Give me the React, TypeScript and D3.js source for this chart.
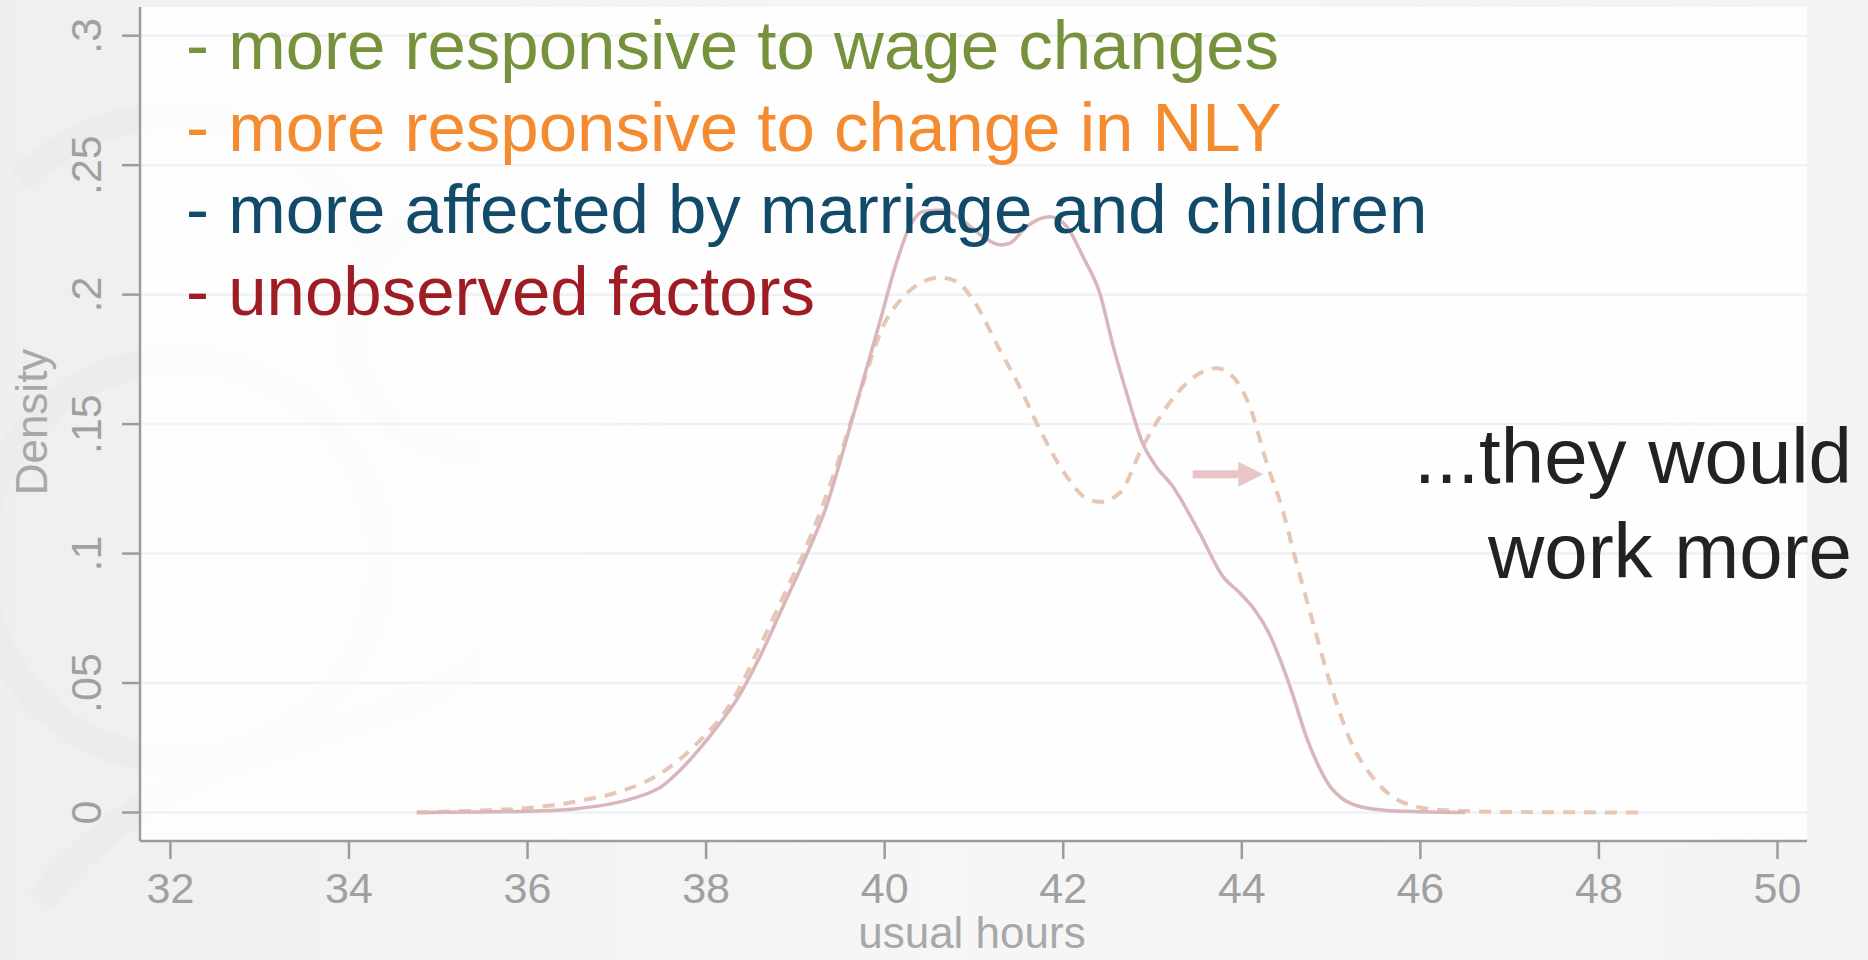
import React from "react";
import * as d3 from "d3";

// ---- data ----
const xTicks = [32, 34, 36, 38, 40, 42, 44, 46, 48, 50];
const yTicks = [0, 0.05, 0.1, 0.15, 0.2, 0.25, 0.3];
const yTickLabels = ["0", ".05", ".1", ".15", ".2", ".25", ".3"];

const solidX = [34.76, 35.5, 36.0, 36.5, 37.0, 37.3, 37.5, 37.7, 37.9, 38.1, 38.35, 38.6, 38.86, 39.1, 39.35, 39.57, 39.76, 39.95, 40.13, 40.28, 40.43, 40.66, 40.9, 41.1, 41.3, 41.4, 41.59, 41.85, 42.04, 42.22, 42.41, 42.56, 42.71, 42.89, 43.04, 43.23, 43.4, 43.53, 43.79, 43.98, 44.15, 44.3, 44.43, 44.57, 44.72, 44.88, 45.0, 45.12, 45.3, 45.6, 46.0, 46.5];
const solidY = [0, 0.0002, 0.0005, 0.0013, 0.0038, 0.0068, 0.01, 0.016, 0.0235, 0.032, 0.044, 0.06, 0.0795, 0.0975, 0.1185, 0.1439, 0.167, 0.19, 0.2121, 0.2263, 0.2321, 0.2327, 0.228, 0.2224, 0.2192, 0.2198, 0.2263, 0.2301, 0.2263, 0.2147, 0.2005, 0.18, 0.162, 0.1426, 0.1336, 0.1258, 0.116, 0.1078, 0.0911, 0.0847, 0.078, 0.0695, 0.059, 0.0455, 0.0295, 0.0165, 0.0095, 0.0055, 0.0025, 0.0009, 0.0003, 0];

const dashX = [34.76, 35.5, 36.0, 36.63, 37.09, 37.49, 37.9, 38.3, 38.6, 38.9, 39.09, 39.31, 39.55, 39.76, 39.98, 40.21, 40.43, 40.62, 40.81, 40.99, 41.29, 41.51, 41.74, 42.04, 42.25, 42.41, 42.63, 42.89, 43.16, 43.42, 43.72, 43.9, 44.09, 44.28, 44.46, 44.6, 44.78, 44.99, 45.22, 45.49, 45.82, 46.22, 47.0, 48.49];
const dashY = [0, 0.0008, 0.0017, 0.0048, 0.0087, 0.0151, 0.0267, 0.0435, 0.064, 0.086, 0.1, 0.119, 0.143, 0.166, 0.1876, 0.1992, 0.205, 0.2066, 0.205, 0.198, 0.1786, 0.1645, 0.1477, 0.1297, 0.1215, 0.12, 0.1233, 0.1413, 0.1567, 0.167, 0.1716, 0.1683, 0.1567, 0.1349, 0.1165, 0.098, 0.0755, 0.0499, 0.0275, 0.0126, 0.0037, 0.001, 0.0002, 0];

const arrowFrom = [43.45, 0.1306];
const arrowTo = [44.24, 0.1306];

const bulletTexts = [
  "- more responsive to wage changes",
  "- more responsive to change in NLY",
  "- more affected by marriage and children",
  "- unobserved factors",
];
const bulletColors = ["#76923c", "#f58b30", "#124a6a", "#a01c24"];
const noteLines = ["...they would", "work more"];

export default function App() {
  const W = 1868;
  const H = 960;
  const left = 140;
  const right = 1807;
  const top = 7;
  const bottom = 841;
  const x = d3.scaleLinear().domain([32, 50]).range([170.4, 1777.5]);
  const y = d3.scaleLinear().domain([0, 0.3]).range([812.5, 35.7]);
  const line = d3
    .line<[number, number]>()
    .x((d) => x(d[0]))
    .y((d) => y(d[1]))
    .curve(d3.curveMonotoneX);
  const solid = solidX.map((v, i) => [v, solidY[i]] as [number, number]);
  const dashed = dashX.map((v, i) => [v, dashY[i]] as [number, number]);
  const font = "'Liberation Sans', Arial, Helvetica, sans-serif";
  const axisCol = "#9c9c9c";

  const ax0 = x(arrowFrom[0]);
  const ax1 = x(arrowTo[0]);
  const ay = y(arrowFrom[1]);
  const headLen = 25;

  return (
    <svg
      width={W}
      height={H}
      style={{ position: "absolute", left: 0, top: 0, display: "block" }}
      fontFamily={font}
    >
      <defs>
        <linearGradient id="bg" x1="0" x2="1" y1="0" y2="0">
          <stop offset="0" stopColor="#efefef" />
          <stop offset="0.5" stopColor="#f6f6f6" />
          <stop offset="1" stopColor="#f3f3f3" />
        </linearGradient>
      </defs>
      <rect x={0} y={0} width={W} height={H} fill="url(#bg)" />
      {/* faint decorative swirls */}
      <g fill="none" stroke="#eaeaea" strokeWidth={28} opacity={0.55}>
        <circle cx={470} cy={330} r={120} />
        <circle cx={180} cy={560} r={200} />
        <path d="M20,180 C150,60 320,120 380,260" />
        <path d="M40,900 C200,700 420,760 520,620" />
      </g>
      <rect x={left} y={top} width={right - left} height={bottom - top} fill="#ffffff" opacity={0.84} />

      {/* gridlines */}
      {yTicks.map((t) => (
        <line key={"g" + t} x1={left} x2={right} y1={y(t)} y2={y(t)} stroke="#eef2f5" strokeWidth={2.5} />
      ))}

      {/* axes */}
      <line x1={left} x2={left} y1={top} y2={bottom} stroke={axisCol} strokeWidth={2.5} />
      <line x1={left} x2={right} y1={bottom} y2={bottom} stroke={axisCol} strokeWidth={2.5} />
      {yTicks.map((t, i) => (
        <g key={"y" + t}>
          <line x1={left - 18} x2={left} y1={y(t)} y2={y(t)} stroke={axisCol} strokeWidth={2.5} />
          <text
            transform={`translate(${101},${y(t)}) rotate(-90)`}
            textAnchor="middle"
            fontSize={43}
            fill="#a0a0a0"
          >
            {yTickLabels[i]}
          </text>
        </g>
      ))}
      {xTicks.map((t) => (
        <g key={"x" + t}>
          <line x1={x(t)} x2={x(t)} y1={bottom} y2={bottom + 18} stroke={axisCol} strokeWidth={2.5} />
          <text x={x(t)} y={903} textAnchor="middle" fontSize={43} fill="#a0a0a0">
            {t}
          </text>
        </g>
      ))}
      <text x={(x(32) + x(50)) / 2 - 2} y={948} textAnchor="middle" fontSize={44} fill="#a8a8a8">
        usual hours
      </text>
      <text transform={`translate(47,422) rotate(-90)`} textAnchor="middle" fontSize={44} fill="#a8a8a8">
        Density
      </text>

      {/* curves */}
      <path d={line(dashed) || ""} fill="none" stroke="#e6c6b4" strokeWidth={4} strokeDasharray="12 9" />
      <path d={line(solid) || ""} fill="none" stroke="#d9b6ba" strokeWidth={3.5} />

      {/* arrow */}
      <line x1={ax0} x2={ax1 - headLen} y1={ay} y2={ay} stroke="#e8c5c7" strokeWidth={8} />
      <polygon
        points={`${ax1 - headLen},${ay - 12.5} ${ax1},${ay} ${ax1 - headLen},${ay + 12.5}`}
        fill="#e8c5c7"
      />

      {/* bullet text */}
      {bulletTexts.map((s, i) => (
        <text key={s} x={186} y={69 + i * 82} fontSize={69} fill={bulletColors[i]}>
          {s}
        </text>
      ))}

      {/* note */}
      {noteLines.map((s, i) => (
        <text key={s} x={1852} y={483 + i * 95} textAnchor="end" fontSize={78} fill="#222222">
          {s}
        </text>
      ))}
    </svg>
  );
}
